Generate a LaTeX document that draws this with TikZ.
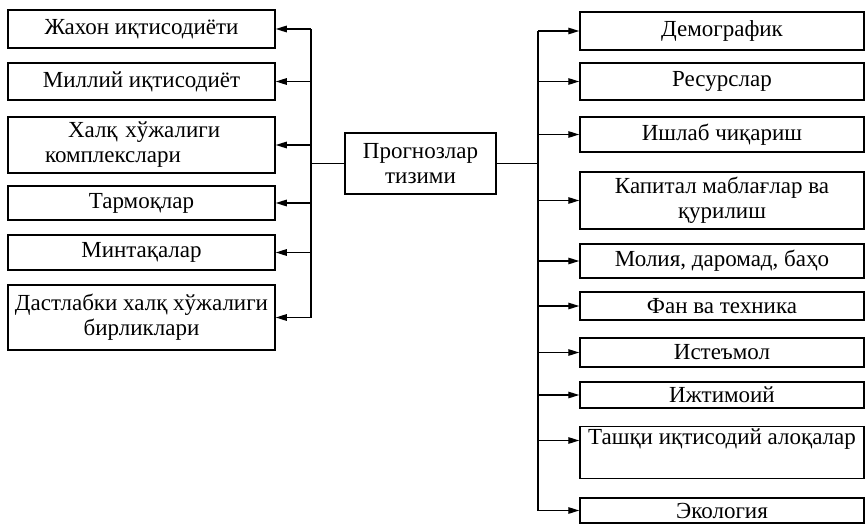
\documentclass[tikz,border=0pt]{standalone}
\usepackage{fontspec}
\setmainfont{Liberation Serif}
\usetikzlibrary{arrows.meta}
\tikzset{
    box/.style={draw, line width=1.5pt, inner sep=2pt, align=center,
        font=\fontsize{23}{25}\selectfont},
    lbox/.style={box, minimum width=267},
    rbox/.style={box, minimum width=284},
    arr/.style={line width=1.4pt, -{Triangle[length=11pt, width=6.5pt]}},
    bus/.style={line width=1.4pt}
}
\begin{document}
\begin{tikzpicture}[x=1pt, y=-1pt]
        \useasboundingbox (0,0) rectangle (866,524);
        % centre
        \node [box, minimum width=151, minimum height=61] (prog) at (420.5,163.5) {Прогнозлар\\тизими};
        % left column
        \node [lbox, minimum height=38] (jahon) at (141.5,29) {Жахон иқтисодиёти};
        \node [lbox, minimum height=37] (milliy) at (141.5,81.5) {Миллий иқтисодиёт};
        \node [lbox, minimum height=56, text width=259, align=left] (komp) at (141.5,145)
            {\hspace*{56pt}Халқ хўжалиги\\\hspace*{33pt}комплекслари};
        \node [lbox, minimum height=34] (tarm) at (141.5,203) {Тармоқлар};
        \node [lbox, minimum height=35] (mint) at (141.5,252.5) {Минтақалар};
        \node [lbox, minimum height=65] (birlik) at (141.5,317.5) {Дастлабки халқ хўжалиги\\бирликлари};
        % right column
        \node [rbox, minimum height=38] (demo) at (722,31) {Демографик};
        \node [rbox, minimum height=37] (resurs) at (722,81.5) {Ресурслар};
        \node [rbox, minimum height=35] (ishlab) at (722,134.5) {Ишлаб чиқариш};
        \node [rbox, minimum height=57] (kapital) at (722,200.5) {Капитал маблағлар ва\\қурилиш};
        \node [rbox, minimum height=34] (moliya) at (722,261) {Молия, даромад, баҳо};
        \node [rbox, minimum height=28] (fan) at (722,306) {Фан ва техника};
        \node [rbox, minimum height=29] (istemol) at (722,352.5) {Истеъмол};
        \node [rbox, minimum height=26] (ijtimoiy) at (722,395) {Ижтимоий};
        \node [rbox, minimum height=51] (tashqi) at (722,452.5) {Ташқи иқтисодий алоқалар\\\strut};
        \node [rbox, minimum height=25] (eko) at (722,510.5) {Экология};
        % buses
        \coordinate (lbus) at (311,163.5);
        \coordinate (rbus) at (538,163.5);
        \coordinate (tashqiin) at ([yshift=12pt]tashqi.west);
        \draw [bus] (prog.west) -- (lbus);
        \draw [bus] (prog.east) -- (rbus);
        \draw [bus] (lbus |- jahon) -- (lbus |- birlik);
        \draw [bus] (rbus |- demo) -- (rbus |- eko);
        % arrows to the left
        \draw [arr] (lbus |- jahon) -- (jahon.east);
        \draw [arr] (lbus |- milliy) -- (milliy.east);
        \draw [arr] (lbus |- komp) -- (komp.east);
        \draw [arr] (lbus |- tarm) -- (tarm.east);
        \draw [arr] (lbus |- mint) -- (mint.east);
        \draw [arr] (lbus |- birlik) -- (birlik.east);
        % arrows to the right
        \draw [arr] (rbus |- demo) -- (demo.west);
        \draw [arr] (rbus |- resurs) -- (resurs.west);
        \draw [arr] (rbus |- ishlab) -- (ishlab.west);
        \draw [arr] (rbus |- kapital) -- (kapital.west);
        \draw [arr] (rbus |- moliya) -- (moliya.west);
        \draw [arr] (rbus |- fan) -- (fan.west);
        \draw [arr] (rbus |- istemol) -- (istemol.west);
        \draw [arr] (rbus |- ijtimoiy) -- (ijtimoiy.west);
        \draw [arr] (rbus |- tashqiin) -- (tashqiin);
        \draw [arr] (rbus |- eko) -- (eko.west);
    \end{tikzpicture}
\end{document}
